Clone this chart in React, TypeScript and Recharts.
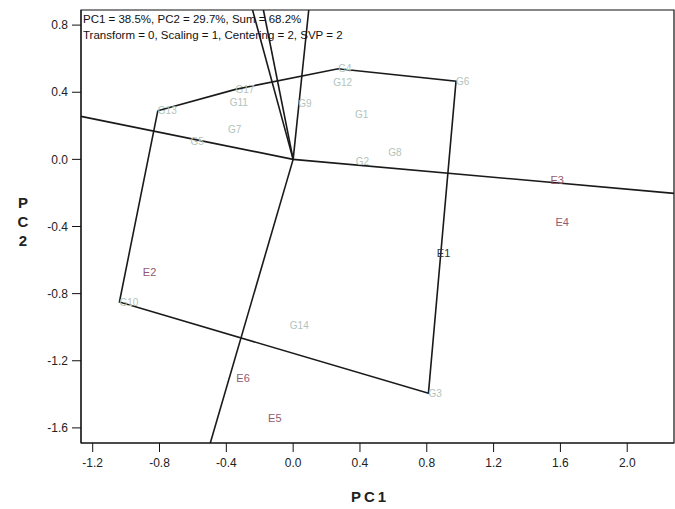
import { ReferenceArea, ReferenceLine, Scatter, ScatterChart, XAxis, YAxis } from 'recharts'

// genotype scores (PC1, PC2)
const genotypeNames = ['G13', 'G17', 'G11', 'G7', 'G5', 'G9', 'G4', 'G12', 'G1', 'G2', 'G8', 'G6', 'G10', 'G14', 'G3']
const genotypePc1 = [-0.81, -0.345, -0.38, -0.39, -0.615, 0.03, 0.27, 0.24, 0.37, 0.375, 0.57, 0.975, -1.04, -0.02, 0.81]
const genotypePc2 = [0.29, 0.417, 0.34, 0.18, 0.107, 0.334, 0.54, 0.46, 0.27, -0.012, 0.04, 0.466, -0.85, -0.99, -1.393]

// environment scores
const envNames = ['E1', 'E2', 'E3', 'E4', 'E5', 'E6']
const envPc1 = [0.86, -0.9, 1.54, 1.57, -0.15, -0.34]
const envPc2 = [-0.56, -0.673, -0.125, -0.375, -1.54, -1.305]

// polygon vertices, in drawing order
const hullOrder = ['G13', 'G17', 'G4', 'G6', 'G3', 'G10']

const xTicks = [-1.2, -0.8, -0.4, 0.0, 0.4, 0.8, 1.2, 1.6, 2.0]
const yTicks = [0.8, 0.4, 0.0, -0.4, -0.8, -1.2, -1.6]
const xDomain: [number, number] = [-1.27, 2.28]
const yDomain: [number, number] = [-1.69, 0.89]

type Pt = { name: string; x: number; y: number }

const genotypes: Pt[] = genotypeNames.map((name, i) => ({ name, x: genotypePc1[i], y: genotypePc2[i] }))
const environments: Pt[] = envNames.map((name, i) => ({ name, x: envPc1[i], y: envPc2[i] }))
const hull: Pt[] = [...hullOrder, hullOrder[0]].map((n) => genotypes.find((g) => g.name === n)!)

// line from the origin perpendicular to a polygon side, run out to the plot edge
function rayEnd(a: Pt, b: Pt) {
  let nx = b.y - a.y
  let ny = -(b.x - a.x)
  if (nx * a.x + ny * a.y < 0) {
    nx = -nx
    ny = -ny
  }
  const ts: number[] = []
  if (nx > 0) ts.push(xDomain[1] / nx)
  if (nx < 0) ts.push(xDomain[0] / nx)
  if (ny > 0) ts.push(yDomain[1] / ny)
  if (ny < 0) ts.push(yDomain[0] / ny)
  const t = Math.min(...ts)
  return { x: nx * t, y: ny * t }
}

const rays = hull.slice(0, -1).map((p, i) => rayEnd(p, hull[i + 1]))

const font = '"Liberation Sans", Arial, sans-serif'

function labelShape(color: string, size: number) {
  return (props: any) => (
    <text x={props.cx} y={props.cy} dy="0.35em" fill={props.payload.name === 'E1' ? '#333' : color} fontSize={size} fontFamily={font}>
      {props.payload.name}
    </text>
  )
}

const tickStyle = { fill: '#222', fontSize: 12, fontFamily: font }

export default function App() {
  return (
    <div style={{ position: 'absolute', left: 0, top: 0, width: 675, height: 509, background: '#fff' }}>
      <ScatterChart width={675} height={509} margin={{ top: 10, right: 1, bottom: 0, left: 0 }}>
        <XAxis
          type="number"
          dataKey="x"
          domain={xDomain}
          ticks={xTicks}
          allowDataOverflow
          tickFormatter={(v) => Number(v).toFixed(1)}
          tick={tickStyle}
          tickSize={9}
          tickMargin={6}
          height={66}
          stroke="#111"
        />
        <YAxis
          type="number"
          dataKey="y"
          domain={yDomain}
          ticks={yTicks}
          allowDataOverflow
          tickFormatter={(v) => Number(v).toFixed(1)}
          tick={tickStyle}
          tickSize={9}
          tickMargin={4}
          width={81}
          stroke="#111"
        />
        <ReferenceArea x1={xDomain[0]} x2={xDomain[1]} y1={yDomain[0]} y2={yDomain[1]} fill="none" stroke="#111" strokeWidth={1.2} />
        {rays.map((r, i) => (
          <ReferenceLine
            key={i}
            segment={[{ x: 0, y: 0 }, r]}
            stroke="#1a1a1a"
            strokeWidth={1.6}
            ifOverflow="visible"
          />
        ))}
        <Scatter
          data={hull}
          line={{ stroke: '#1a1a1a', strokeWidth: 1.6 }}
          shape={() => <g />}
          isAnimationActive={false}
        />
        <Scatter data={genotypes} shape={labelShape('#b3c3bb', 10)} isAnimationActive={false} />
        <Scatter data={environments} shape={labelShape('#92596f', 11)} isAnimationActive={false} />
      </ScatterChart>

      <div style={{ position: 'absolute', left: 83, top: 11, fontFamily: font, fontSize: 11.5, color: '#111', lineHeight: '16px', whiteSpace: 'nowrap' }}>
        <div>PC1 = 38.5%, PC2 = 29.7%, Sum = 68.2%</div>
        <div>Transform = 0, Scaling = 1, Centering = 2, SVP = 2</div>
      </div>

      <div style={{ position: 'absolute', left: 14, top: 193, width: 18, fontFamily: font, fontWeight: 'bold', fontSize: 15, color: '#222', lineHeight: '19px', textAlign: 'center' }}>
        <div>P</div>
        <div>C</div>
        <div>2</div>
      </div>
      <div style={{ position: 'absolute', left: 340, top: 488, width: 60, fontFamily: font, fontWeight: 'bold', fontSize: 15, color: '#222', letterSpacing: 3, textAlign: 'center' }}>
        PC1
      </div>
    </div>
  )
}
